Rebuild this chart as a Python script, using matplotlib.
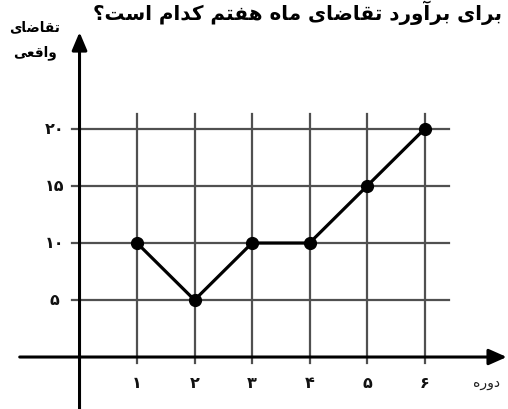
import matplotlib
matplotlib.use('Agg')
import matplotlib.pyplot as plt

# data
periods = [1, 2, 3, 4, 5, 6]
demand = [10, 5, 10, 10, 15, 20]
y_ticks = [5, 10, 15, 20]

title_text = 'برای برآورد تقاضای ماه هفتم کدام است؟'
ylabel_lines = ['تقاضای', 'واقعی']
xlabel_text = 'دوره'

# matplotlib has no arabic shaping, so map letters to presentation forms by hand
# letter: (isolated, final, initial, medial); right-joining letters have 2 forms
FORMS = {
    'ا': ('\uFE8D', '\uFE8E'),
    'آ': ('\uFE81', '\uFE82'),
    'د': ('\uFEA9', '\uFEAA'),
    'ر': ('\uFEAD', '\uFEAE'),
    'و': ('\uFEED', '\uFEEE'),
    'ب': ('\uFE8F', '\uFE90', '\uFE91', '\uFE92'),
    'ت': ('\uFE95', '\uFE96', '\uFE97', '\uFE98'),
    'س': ('\uFEB1', '\uFEB2', '\uFEB3', '\uFEB4'),
    'ض': ('\uFEBD', '\uFEBE', '\uFEBF', '\uFEC0'),
    'ع': ('\uFEC9', '\uFECA', '\uFECB', '\uFECC'),
    'ف': ('\uFED1', '\uFED2', '\uFED3', '\uFED4'),
    'ق': ('\uFED5', '\uFED6', '\uFED7', '\uFED8'),
    'ک': ('\uFB8E', '\uFB8F', '\uFB90', '\uFB91'),
    'م': ('\uFEE1', '\uFEE2', '\uFEE3', '\uFEE4'),
    'ه': ('\uFEE9', '\uFEEA', '\uFEEB', '\uFEEC'),
    'ی': ('\uFBFC', '\uFBFD', '\uFBFE', '\uFBFF'),
}


def shape(text):
    out = []
    for i, ch in enumerate(text):
        if ch not in FORMS:
            out.append(ch)
            continue
        prev = text[i - 1] if i > 0 else ''
        nxt = text[i + 1] if i + 1 < len(text) else ''
        join_prev = prev in FORMS and len(FORMS[prev]) == 4
        join_next = len(FORMS[ch]) == 4 and nxt in FORMS
        f = FORMS[ch]
        if join_prev and join_next:
            out.append(f[3])
        elif join_prev:
            out.append(f[1])
        elif join_next:
            out.append(f[2])
        else:
            out.append(f[0])
    return ''.join(out)[::-1]


def fa_num(n):
    return str(n).translate(str.maketrans('0123456789', '۰۱۲۳۴۵۶۷۸۹'))


plt.rcParams['font.family'] = ['DejaVu Sans']

W, H = 508, 409
fig = plt.figure(figsize=(W / 100, H / 100), dpi=100)
ax = fig.add_axes([0, 0, 1, 1])
ax.set_xlim(-1.383, 7.452)
ax.set_ylim(-4.56, 31.32)
ax.axis('off')

grid_c = '#505050'
for y in y_ticks:
    ax.plot([-0.13, 6.42], [y, y], color=grid_c, lw=1.6, zorder=1)
    ax.text(-0.44, y, fa_num(y), ha='center', va='center', fontsize=11.5,
            fontweight='bold', color='#111111')
for x in periods:
    ax.plot([x, x], [-0.55, 21.3], color=grid_c, lw=1.6, zorder=1)
    ax.text(x, -2.3, fa_num(x), ha='center', va='center', fontsize=11.5,
            fontweight='bold', color='#111111')

# axes with arrow heads
ax.annotate('', xy=(7.43, 0), xytext=(-1.04, 0),
            arrowprops=dict(arrowstyle='-|>,head_length=0.9,head_width=0.4', lw=2.2,
                            color='black', shrinkA=0, shrinkB=0, mutation_scale=12), zorder=3)
ax.annotate('', xy=(0, 28.5), xytext=(0, -4.6),
            arrowprops=dict(arrowstyle='-|>,head_length=0.9,head_width=0.38', lw=2.2,
                            color='black', shrinkA=0, shrinkB=0, mutation_scale=12), zorder=3)

ax.plot(periods, demand, color='black', lw=2.3, marker='o', markersize=8.5, zorder=4)

fig.text(502 / W, 1 - 13 / H, shape(title_text), ha='right', va='center',
         fontsize=14.3, fontweight='bold')
fig.text(35 / W, 1 - 27 / H, shape(ylabel_lines[0]), ha='center', va='center',
         fontsize=9.8, fontweight='bold')
fig.text(35 / W, 1 - 53 / H, shape(ylabel_lines[1]), ha='center', va='center',
         fontsize=9.8, fontweight='bold')
fig.text(486 / W, 1 - 383 / H, shape(xlabel_text), ha='center', va='center',
         fontsize=10, color='#222222')

fig.savefig('out.png', dpi=100)
